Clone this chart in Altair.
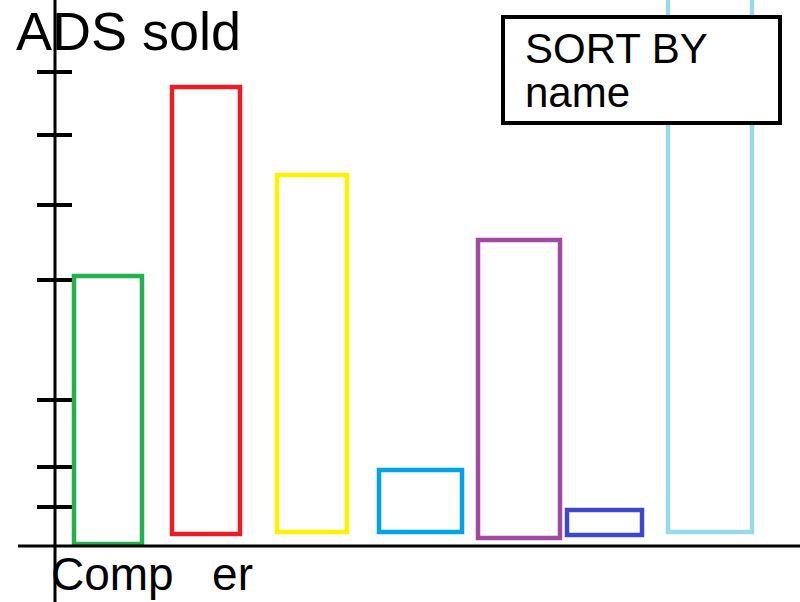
import altair as alt
import pandas as pd

# Bars (hand-drawn sketch of "ADS sold" per company)
companies = ["A", "B", "C", "D", "E", "F", "G"]
bar_start = [19, 117, 222, 324, 423, 512, 613]
bar_end = [87, 185, 292, 407, 505, 587, 697]
ads_sold = [270, 459, 371, 76, 306, 36, 620]
bar_base = [2, 12, 14, 14, 8, 11, 14]
colors = ["#22b14c", "#ed1c24", "#fff200", "#00a2e8", "#a349a4", "#3f48cc", "#99d9ea"]

# y-axis tick positions
tick_values = [474, 411, 341, 266, 146, 79, 39]

bars_df = pd.DataFrame({
    "company": companies, "x0": bar_start, "x1": bar_end,
    "top": ads_sold, "bottom": bar_base, "color": colors,
})
ticks_df = pd.DataFrame({"v": tick_values})

xscale = alt.Scale(domain=[0, 745], nice=False, zero=False)
yscale = alt.Scale(domain=[0, 546], nice=False, zero=False)

bars = alt.Chart(bars_df).mark_bar(
    filled=False, strokeWidth=4.5, clip=True, fillOpacity=0
).encode(
    x=alt.X("x0:Q", scale=xscale, axis=None),
    x2="x1:Q",
    y=alt.Y("top:Q", scale=yscale, axis=None),
    y2="bottom:Q",
    stroke=alt.Stroke("color:N", scale=None),
)

one = pd.DataFrame({"a": [0]})

yaxis = alt.Chart(one).mark_rule(color="black", strokeWidth=3).encode(
    x=alt.value(0), y=alt.value(0), y2=alt.value(602)
)
xaxis = alt.Chart(one).mark_rule(color="black", strokeWidth=3).encode(
    x=alt.value(-37), x2=alt.value(745), y=alt.value(546)
)
ticks = alt.Chart(ticks_df).mark_rule(color="black", strokeWidth=4).encode(
    y=alt.Y("v:Q", scale=yscale, axis=None), x=alt.value(-18), x2=alt.value(17)
)

ytitle = alt.Chart(one).mark_text(
    text="ADS sold", fontSize=54, font="Liberation Sans", align="left",
    baseline="alphabetic", color="black"
).encode(x=alt.value(-39), y=alt.value(50))

xtitle = alt.Chart(one).mark_text(
    text="Comp \u00a0\u00a0er", fontSize=46, font="Liberation Sans", align="left",
    baseline="alphabetic", color="black"
).encode(x=alt.value(-4), y=alt.value(590))

box = alt.Chart(one).mark_rect(
    fill="white", stroke="black", strokeWidth=4
).encode(x=alt.value(448), x2=alt.value(725), y=alt.value(17), y2=alt.value(123))

box_text = alt.Chart(one).mark_text(
    text=["SORT BY", "name"], fontSize=42, font="Liberation Sans", align="left",
    baseline="alphabetic", color="black", lineHeight=44
).encode(x=alt.value(470), y=alt.value(63))

chart = alt.layer(bars, yaxis, xaxis, ticks, ytitle, xtitle, box, box_text).properties(
    width=745, height=546,
    autosize=alt.AutoSizeParams(type="none"),
    padding={"left": 55, "top": 0, "right": 0, "bottom": 56},
).configure_view(stroke=None)

chart.save("out.html", embed_options={"renderer": "svg", "actions": False})
